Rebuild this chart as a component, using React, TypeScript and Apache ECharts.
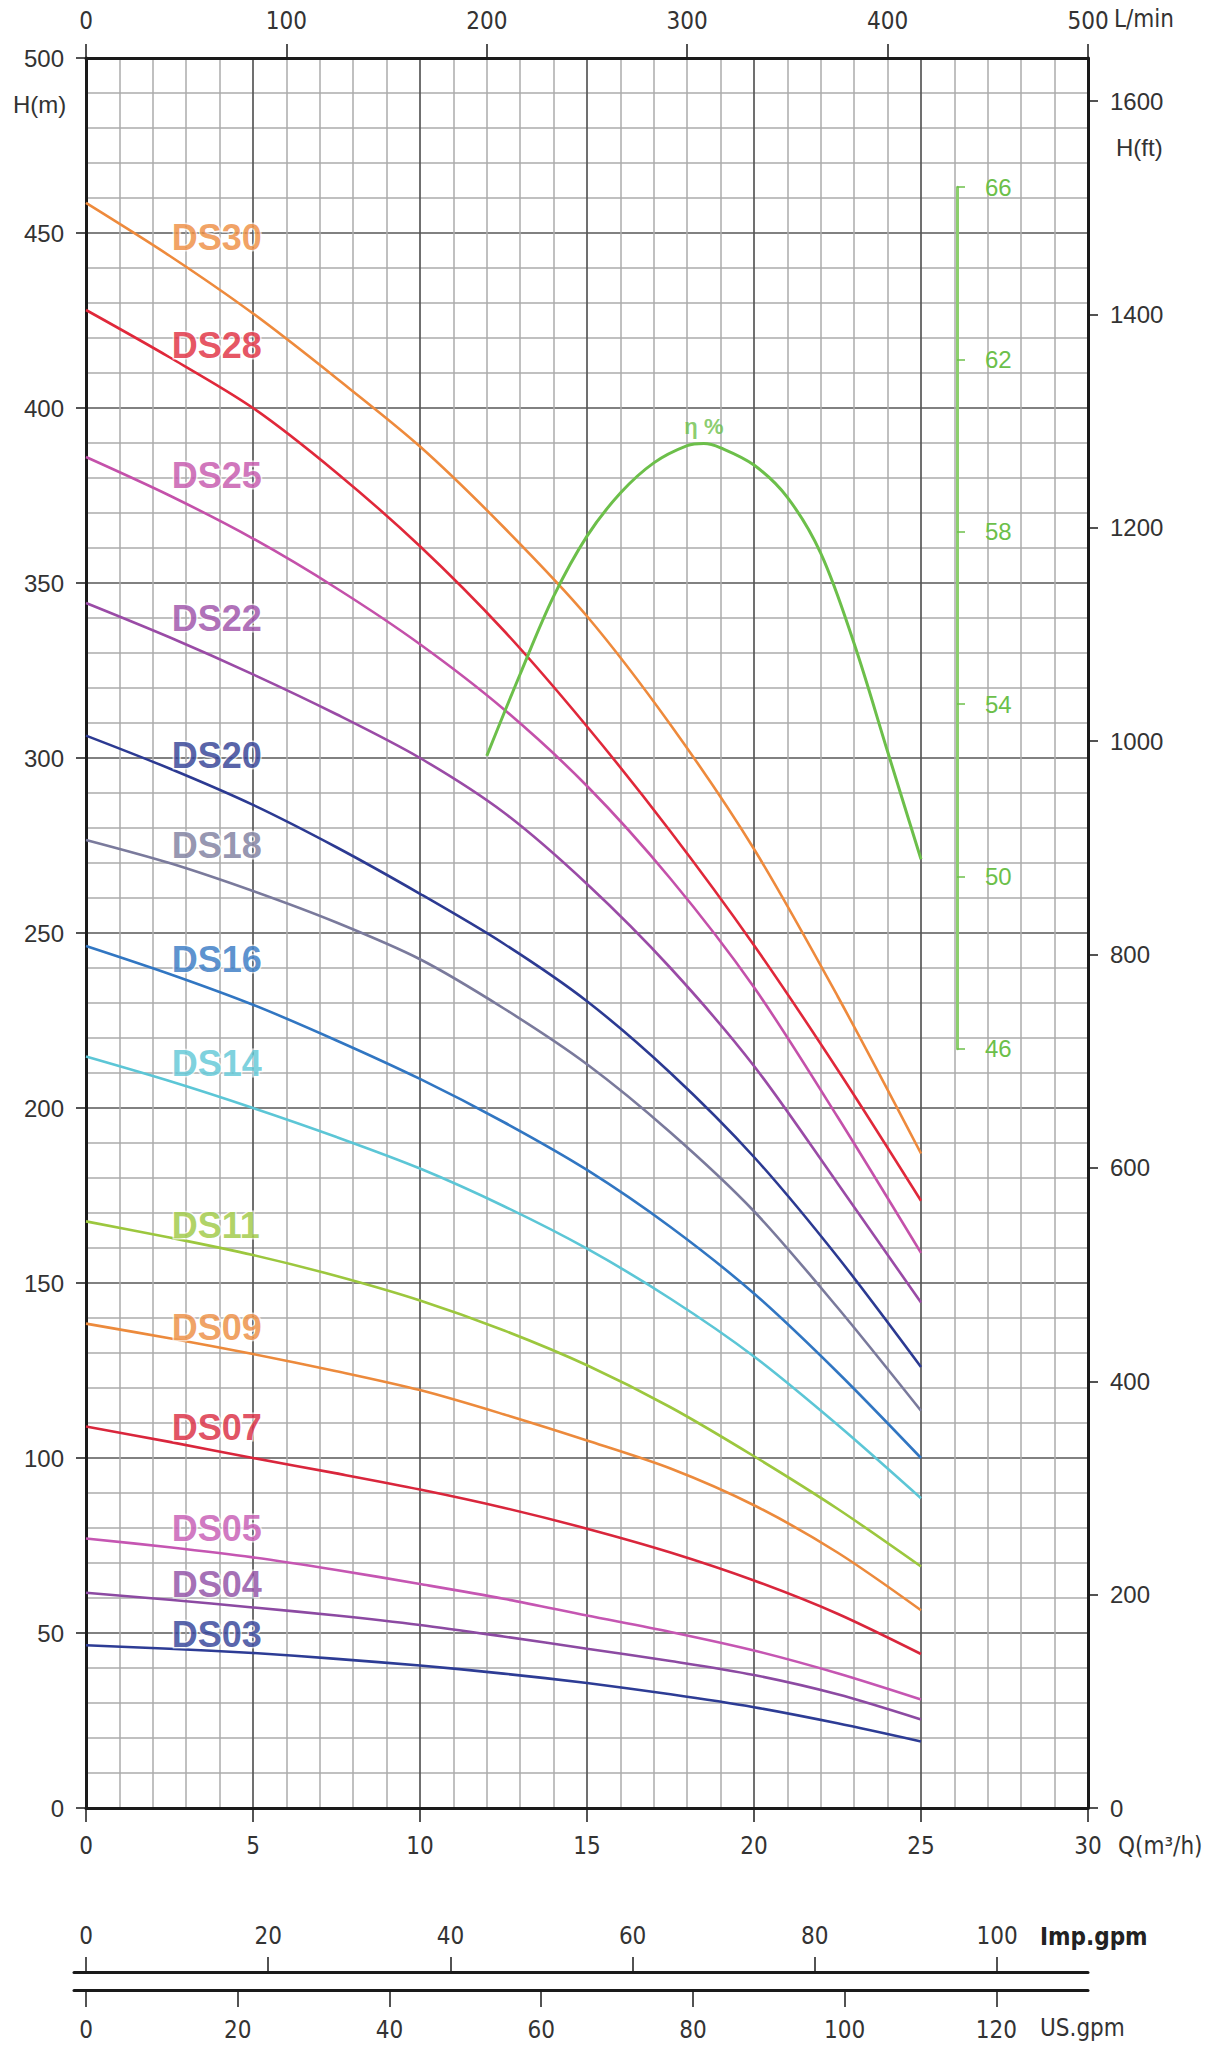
import React, { useEffect, useRef } from "react";
import * as echarts from "echarts";

// ---------------- data ----------------
const Q_POINTS = [0, 2.5, 5, 7.5, 10, 12.5, 15, 17.5, 20, 22.5, 25];

const MODELS = ["DS30", "DS28", "DS25", "DS22", "DS20", "DS18", "DS16", "DS14", "DS11", "DS09", "DS07", "DS05", "DS04", "DS03"];

const H_DS30 = [458.6, 443.5, 427, 408.5, 389, 366, 340.5, 309.5, 274, 232, 187];
const H_DS28 = [428, 414.5, 400, 381.5, 360.5, 336.5, 309, 279, 246.5, 211, 173.5];
const H_DS25 = [386, 375, 362.7, 348.5, 332.5, 314, 292, 265.5, 234.5, 197.5, 158.6];
const H_DS22 = [344.3, 334.5, 323.9, 312.5, 300, 284.5, 264, 240, 212, 178.5, 144.4];
const H_DS20 = [306.4, 297, 286.6, 274.5, 261.2, 247, 230.5, 210, 186, 157.5, 126];
const H_DS18 = [276.6, 270, 262, 253, 242.5, 228.5, 212.5, 193, 170.5, 143, 113.5];
const H_DS16 = [246.3, 238.3, 229.5, 219.3, 208.3, 196, 182.3, 166, 147, 124.5, 100];
const H_DS14 = [214.7, 207.7, 200, 191.7, 182.7, 172, 159.8, 145.5, 129, 109.5, 88.5];
const H_DS11 = [167.6, 163, 158, 152, 145, 136.5, 126.5, 114.5, 100.5, 85.5, 69];
const H_DS09 = [138.4, 134.2, 129.7, 124.8, 119.4, 112.5, 105, 97, 86.5, 73, 56.5];
const H_DS07 = [109, 104.6, 100, 95.6, 91, 85.8, 79.8, 73, 65, 55.5, 44];
const H_DS05 = [77, 74.5, 71.6, 68, 64, 59.8, 55, 50.3, 45, 38.5, 31];
const H_DS04 = [61.5, 59.5, 57.3, 55, 52.3, 49, 45.5, 42, 38, 32.5, 25.3];
const H_DS03 = [46.5, 45.5, 44.3, 42.6, 40.7, 38.4, 35.7, 32.5, 28.8, 24.2, 19];

const HEADS = [H_DS30, H_DS28, H_DS25, H_DS22, H_DS20, H_DS18, H_DS16, H_DS14, H_DS11, H_DS09, H_DS07, H_DS05, H_DS04, H_DS03];

// label anchor (Q of left edge, H of centre)
const LABEL_Q = 2.55;
const LABEL_H = [448.8, 417.9, 380.6, 339.9, 300.7, 275, 242.5, 212.8, 166.5, 137.3, 108.6, 79.8, 63.9, 49.6];

// efficiency curve (%)
const EFF_Q = [12, 13, 14, 15, 16, 17, 18, 18.5, 19, 20, 21, 22, 23, 24, 25];
const EFF = [52.8, 54.7, 56.5, 57.9, 58.9, 59.6, 60.0, 60.05, 59.95, 59.55, 58.8, 57.5, 55.4, 52.9, 50.4];

// efficiency scale: 46 % and 66 % ticks sit at these heads (m)
const EFF_SCALE_LOW = 46;
const EFF_SCALE_HIGH = 66;
const EFF_LOW_AT_H = 216.9;
const EFF_HIGH_AT_H = 463.1;

const IMP_TICKS = [0, 20, 40, 60, 80, 100];
const US_TICKS = [0, 20, 40, 60, 80, 100, 120];

// ---------------- styles ----------------
const COLORS = [
  "#ee8a3c", "#e0283a", "#c451aa", "#9a4ba6", "#2c3a92", "#7a7a9c", "#3176c2",
  "#5cc6d6", "#9cc73e", "#ec8a3c", "#d9263c", "#c556b2", "#8c4aa2", "#2d3c95",
];
const GREEN = "#6cbf4a";
const LABEL_COLOR = "#333";
const NARROW = "'Liberation Sans Narrow', 'DejaVu Sans Condensed', 'Arial Narrow', sans-serif";
const SANS = "'Liberation Sans', Arial, sans-serif";

const W = 1225;
const HGT = 2047;
const PLOT_L = 86;
const PLOT_R = 1088;
const PLOT_T = 58;
const PLOT_B = 1808;
const EFF_LINE_X = 957;
const STUB = 12;
const IMP_LINE_Y = 1972;
const US_LINE_Y = 1990;

const H_MAX = 500;
const Q_MAX = 30;
const FT_MAX = H_MAX / 0.3048;
const LMIN_MAX = (Q_MAX * 1000) / 60;
const IMP_MAX = (Q_MAX * 1000) / 60 / 4.54609;
const US_MAX = (Q_MAX * 1000) / 60 / 3.785411784;

export default function App() {
  const ref = useRef<HTMLDivElement>(null);

  useEffect(() => {
    if (!ref.current) return;
    const chart = echarts.init(ref.current, undefined, { renderer: "svg" });

    const plotW = PLOT_R - PLOT_L;
    const plotH = PLOT_B - PLOT_T;
    const pxPerM = plotH / H_MAX;
    const effPerM = (EFF_SCALE_HIGH - EFF_SCALE_LOW) / (EFF_HIGH_AT_H - EFF_LOW_AT_H);
    const effMin = EFF_SCALE_LOW - EFF_LOW_AT_H * effPerM;
    const effMax = EFF_SCALE_LOW + (H_MAX - EFF_LOW_AT_H) * effPerM;
    const effTop = PLOT_T + (H_MAX - EFF_HIGH_AT_H) * pxPerM;
    const effBottom = PLOT_T + (H_MAX - EFF_LOW_AT_H) * pxPerM;

    const peakIdx = EFF.indexOf(Math.max(...EFF));

    const majorLine = { show: true, lineStyle: { color: "#575757", width: 1.7 } };
    const minorLine = { show: true, lineStyle: { color: "#ababab", width: 1.5 } };
    const blackAxis = { show: true, onZero: false, lineStyle: { color: "#1a1a1a", width: 3 } };
    const hidden = {
      show: false,
      axisLine: { show: false, onZero: false },
      axisTick: { show: false },
      axisLabel: { show: false },
      splitLine: { show: false },
    };

    const lineSeries = HEADS.map((h, i) => ({
      type: "line",
      name: MODELS[i],
      xAxisIndex: 0,
      yAxisIndex: 0,
      data: Q_POINTS.map((q, k) => [q, h[k]]),
      smooth: 0.3,
      showSymbol: false,
      silent: true,
      lineStyle: { color: COLORS[i], width: 2.6 },
      itemStyle: { color: COLORS[i] },
      z: 5,
    }));

    const gridBase = { outerBoundsMode: "none", containLabel: false };

    const option: any = {
      animation: false,
      backgroundColor: "#ffffff",
      grid: [
        { ...gridBase, left: PLOT_L, top: PLOT_T, width: plotW, height: plotH },
        { ...gridBase, left: EFF_LINE_X, top: effTop, width: 40, height: effBottom - effTop },
        { ...gridBase, left: PLOT_L - STUB, top: IMP_LINE_Y, width: plotW + STUB, height: 1 },
        { ...gridBase, left: PLOT_L - STUB, top: US_LINE_Y - 1, width: plotW + STUB, height: 1 },
      ],
      xAxis: [
        {
          type: "value", gridIndex: 0, position: "bottom", min: 0, max: Q_MAX, interval: 5,
          axisLine: blackAxis,
          axisTick: { show: true, length: 14, lineStyle: { color: "#1a1a1a", width: 1.5 } },
          axisLabel: { fontSize: 24, fontFamily: NARROW, color: LABEL_COLOR, margin: 26 },
          splitLine: majorLine,
          minorTick: { show: false, splitNumber: 5 },
          minorSplitLine: minorLine,
        },
        {
          type: "value", gridIndex: 0, position: "top", min: 0, max: LMIN_MAX, interval: 100,
          axisLine: blackAxis,
          axisTick: { show: true, length: 14, lineStyle: { color: "#1a1a1a", width: 1.5 } },
          axisLabel: { fontSize: 24, fontFamily: NARROW, color: LABEL_COLOR, margin: 25 },
          splitLine: { show: false },
        },
        { type: "value", gridIndex: 1, min: 0, max: 1, ...hidden },
        {
          type: "value", gridIndex: 2, position: "top", min: (-STUB / plotW) * IMP_MAX, max: IMP_MAX,
          axisLine: blackAxis,
          axisTick: { show: true, length: 15, customValues: IMP_TICKS, lineStyle: { color: "#1a1a1a", width: 1.5 } },
          axisLabel: { customValues: IMP_TICKS, fontSize: 24, fontFamily: NARROW, color: LABEL_COLOR, margin: 24 },
          splitLine: { show: false },
        },
        {
          type: "value", gridIndex: 3, position: "bottom", min: (-STUB / plotW) * US_MAX, max: US_MAX,
          axisLine: blackAxis,
          axisTick: { show: true, length: 17, customValues: US_TICKS, lineStyle: { color: "#1a1a1a", width: 1.5 } },
          axisLabel: { customValues: US_TICKS, fontSize: 24, fontFamily: NARROW, color: LABEL_COLOR, margin: 28 },
          splitLine: { show: false },
        },
      ],
      yAxis: [
        {
          type: "value", gridIndex: 0, position: "left", min: 0, max: H_MAX, interval: 50,
          axisLine: blackAxis,
          axisTick: { show: true, length: 10, lineStyle: { color: "#1a1a1a", width: 1.5 } },
          axisLabel: { fontSize: 24, fontFamily: SANS, color: LABEL_COLOR, margin: 22 },
          splitLine: majorLine,
          minorTick: { show: false, splitNumber: 5 },
          minorSplitLine: minorLine,
        },
        {
          type: "value", gridIndex: 0, position: "right", min: 0, max: FT_MAX, interval: 200,
          axisLine: blackAxis,
          axisTick: { show: true, length: 10, lineStyle: { color: "#1a1a1a", width: 1.5 } },
          axisLabel: {
            fontSize: 24, fontFamily: SANS, color: LABEL_COLOR, margin: 22, showMaxLabel: false,
            formatter: (v: number) => (Math.abs(v % 200) < 1e-6 ? String(Math.round(v)) : ""),
          },
          splitLine: { show: false },
        },
        { type: "value", gridIndex: 0, min: effMin, max: effMax, ...hidden },
        {
          type: "value", gridIndex: 1, position: "left", min: 0, max: EFF_SCALE_HIGH - EFF_SCALE_LOW, interval: 4,
          axisLine: { show: true, onZero: false, lineStyle: { color: "#8ccf6c", width: 3 } },
          axisTick: { show: true, inside: true, length: 8, lineStyle: { color: GREEN, width: 1.5 } },
          axisLabel: {
            inside: true, margin: 28, fontSize: 24, fontFamily: SANS, color: GREEN,
            formatter: (v: number) => String(v + EFF_SCALE_LOW),
          },
          splitLine: { show: false },
        },
        { type: "value", gridIndex: 2, ...hidden },
        { type: "value", gridIndex: 3, ...hidden },
      ],
      series: [
        ...lineSeries,
        {
          type: "line",
          name: "eff",
          xAxisIndex: 0,
          yAxisIndex: 2,
          data: EFF_Q.map((q, k) => [q, EFF[k]]),
          smooth: 0.35,
          showSymbol: false,
          silent: true,
          lineStyle: { color: GREEN, width: 3 },
          z: 6,
        },
        {
          type: "scatter",
          xAxisIndex: 0,
          yAxisIndex: 2,
          symbolSize: 1,
          silent: true,
          itemStyle: { color: "transparent" },
          data: [{ name: "η %", value: [EFF_Q[peakIdx], EFF[peakIdx]] }],
          label: {
            show: true, position: "top", distance: 6, formatter: "{b}",
            fontSize: 22, fontWeight: "bold", fontFamily: SANS, color: GREEN,
          },
          z: 7,
        },
        {
          type: "scatter",
          xAxisIndex: 0,
          yAxisIndex: 0,
          symbolSize: 1,
          silent: true,
          itemStyle: { color: "transparent" },
          data: MODELS.map((m, i) => ({
            name: m,
            value: [LABEL_Q, LABEL_H[i]],
            label: { color: COLORS[i] },
          })),
          label: {
            show: true, position: "right", distance: 0, formatter: "{b}",
            fontSize: 36, fontWeight: "bold", fontFamily: SANS,
            textBorderColor: "rgba(255,255,255,0.85)", textBorderWidth: 3,
          },
          z: 8,
        },
      ],
      graphic: [
        { type: "text", left: 13, top: 92, style: { text: "H(m)", fontSize: 24, fontFamily: SANS, fill: LABEL_COLOR } },
        { type: "text", left: 1116, top: 135, style: { text: "H(ft)", fontSize: 24, fontFamily: SANS, fill: LABEL_COLOR } },
        { type: "text", left: 1114, top: 7, style: { text: "L/min", fontSize: 24, fontFamily: NARROW, fill: LABEL_COLOR } },
        { type: "text", left: 1118, top: 1834, style: { text: "Q(m³/h)", fontSize: 24, fontFamily: NARROW, fill: LABEL_COLOR } },
        { type: "text", left: 1040, top: 1925, style: { text: "Imp.gpm", fontSize: 24, fontFamily: NARROW, fill: "#222", fontWeight: "bold" } },
        { type: "text", left: 1040, top: 2016, style: { text: "US.gpm", fontSize: 24, fontFamily: NARROW, fill: LABEL_COLOR } },
      ],
    };

    chart.setOption(option);
    return () => chart.dispose();
  }, []);

  return (
    <div
      ref={ref}
      style={{ position: "absolute", left: 0, top: 0, width: W, height: HGT, background: "#fff" }}
    />
  );
}
